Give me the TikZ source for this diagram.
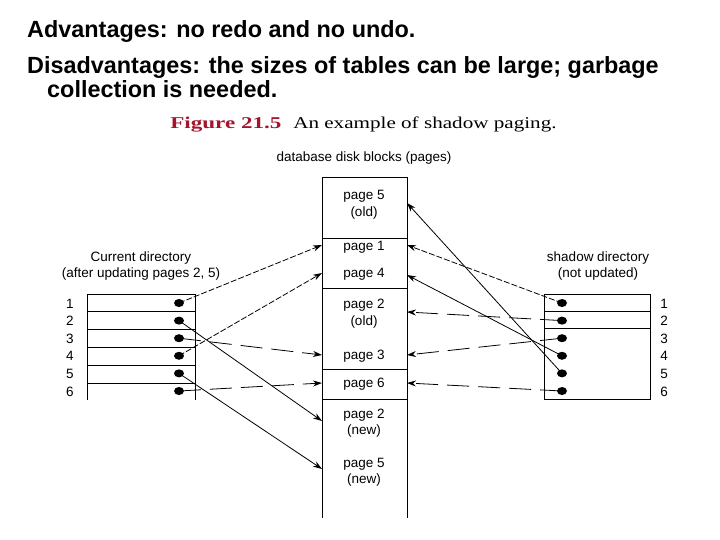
\documentclass[tikz,border=0pt]{standalone}
\usepackage{fontspec}
\setmainfont{Liberation Sans}
\newfontfamily\capfont{Liberation Serif}
\usetikzlibrary{arrows.meta}
\definecolor{figred}{RGB}{165,20,45}
\tikzset{
  head/.style={anchor=base west,font=\fontsize{23.4}{27}\selectfont\bfseries,inner sep=0pt},
  lbl/.style={anchor=base,font=\fontsize{13.5}{16}\selectfont,inner sep=0pt},
  dot/.style={inner sep=0pt,minimum size=0pt},
  ptr/.style={-{Stealth[length=9pt,width=6pt]},line width=0.8pt},
  fine/.style={ptr,dash pattern=on 6pt off 2pt},
  long/.style={ptr,dash pattern=on 22pt off 9pt},
  edge/.style={line width=0.9pt}
}
\begin{document}
\begin{tikzpicture}[x=1pt,y=-1pt]
\useasboundingbox (0,0) rectangle (720,540);
% header
\node[head] (h1) at (27,38) {Advantages: no redo and no undo.};
\node[head] (h2) at (27,74) {Disadvantages: the sizes of tables can be large; garbage};
\node[head] (h3) at (47,98) {collection is needed.};
% caption
\node[anchor=base west,inner sep=0pt,xscale=1.4,transform shape,text=figred,font=\fontsize{16.5}{20}\capfont\bfseries] (cap1) at (170,128.5) {Figure 21.5};
\node[anchor=base west,inner sep=0pt,xscale=1.28,transform shape,font=\fontsize{16.5}{20}\capfont] (cap2) at (293,128.5) {An example of shadow paging.};
\node[lbl] (dbl) at (364,162) {database disk blocks (pages)};
% disk column
\draw[edge] (322,518) -- (322,177) -- (407,177) -- (407,518);
\foreach \y in {238,288,369,399} \draw[edge] (322,\y) -- (407,\y);
\node[lbl] (t5a) at (364,200) {page 5};
\node[lbl] (t5b) at (364,217) {(old)};
\node[lbl] (t1) at (364,250) {page 1};
\node[lbl] (t4) at (364,277) {page 4};
\node[lbl] (t2a) at (364,308) {page 2};
\node[lbl] (t2b) at (364,325) {(old)};
\node[lbl] (t3) at (364,359) {page 3};
\node[lbl] (t6) at (364,387) {page 6};
\node[lbl] (t2na) at (364,418) {page 2};
\node[lbl] (t2nb) at (364,434) {(new)};
\node[lbl] (t5na) at (364,467) {page 5};
\node[lbl] (t5nb) at (364,483) {(new)};
% current directory
\node[lbl] (cd1) at (141,261) {Current directory};
\node[lbl] (cd2) at (141,277) {(after updating pages 2, 5)};
\draw[edge] (87,400) -- (87,294) -- (195,294) -- (195,400);
\foreach \y in {311,329,347,365,383} \draw[edge] (87,\y) -- (195,\y);
% shadow directory
\node[lbl] (sd1) at (598,261) {shadow directory};
\node[lbl] (sd2) at (598,277) {(not updated)};
\draw[edge] (544,294) rectangle (650,399);
\foreach \y in {311,328} \draw[edge] (544,\y) -- (650,\y);
% rows
\foreach \i/\y in {1/303,2/320.6,3/338.2,4/355.8,5/373.4,6/391}{
  \node[lbl] (nl\i) at (70,\y+5) {\i};
  \node[lbl] (nr\i) at (664,\y+5) {\i};
  \node[dot] (L\i) at (179,\y) {};
  \node[dot] (R\i) at (562,\y) {};
  \fill (L\i) ellipse [x radius=5pt, y radius=4pt];
  \fill (R\i) ellipse [x radius=5pt, y radius=4pt];
}
% targets
\coordinate (aP1) at (322,245);
\coordinate (aP4) at (322,273);
\coordinate (aP3) at (322,355);
\coordinate (aP6) at (322,383);
\coordinate (aP2n) at (322,421);
\coordinate (aP5n) at (322,469);
\coordinate (bP5) at (407,203);
\coordinate (bP1) at (407,245);
\coordinate (bP4) at (407,275);
\coordinate (bP2) at (407,312);
\coordinate (bP3) at (407,355);
\coordinate (bP6) at (407,383);
% left pointers
\draw[fine] (L1.center) -- (aP1);
\draw[ptr] (L2.center) -- (aP2n);
\draw[long] (L3.center) -- (aP3);
\draw[fine] (L4.center) -- (aP4);
\draw[ptr] (L5.center) -- (aP5n);
\draw[long] (L6.center) -- (aP6);
% right pointers
\draw[fine] (R1.center) -- (bP1);
\draw[long] (R2.center) -- (bP2);
\draw[long] (R3.center) -- (bP3);
\draw[ptr] (R4.center) -- (bP4);
\draw[ptr] (R5.center) -- (bP5);
\draw[long] (R6.center) -- (bP6);
\end{tikzpicture}
\end{document}
